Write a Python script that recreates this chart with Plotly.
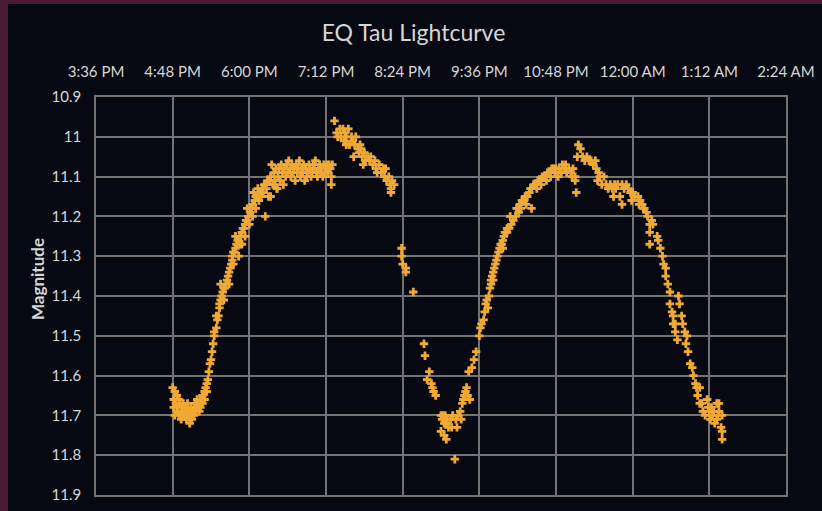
import plotly.graph_objects as go

# ---- data: (clock time, magnitude) ----
first_minimum = [
    ("16:48", 11.63), ("16:49", 11.66), ("16:49", 11.68), ("16:50", 11.64), ("16:50", 11.70),
    ("16:51", 11.67), ("16:52", 11.65), ("16:52", 11.69), ("16:53", 11.68), ("16:54", 11.66),
    ("16:54", 11.70), ("16:55", 11.67), ("16:56", 11.69), ("16:56", 11.71), ("16:57", 11.68),
    ("16:58", 11.70), ("16:58", 11.67), ("16:59", 11.69), ("17:00", 11.68), ("17:00", 11.70),
    ("17:01", 11.71), ("17:02", 11.69), ("17:02", 11.67), ("17:03", 11.70), ("17:04", 11.72),
    ("17:04", 11.69), ("17:05", 11.68), ("17:06", 11.70), ("17:06", 11.71), ("17:07", 11.69),
    ("17:08", 11.68), ("17:08", 11.70), ("17:09", 11.67), ("17:10", 11.69), ("17:10", 11.68),
    ("17:11", 11.66), ("17:12", 11.68), ("17:12", 11.67), ("17:13", 11.69), ("17:14", 11.66),
    ("17:14", 11.68), ("17:15", 11.67), ("17:16", 11.65), ("17:16", 11.67), ("17:17", 11.66),
    ("17:18", 11.64), ("17:18", 11.66), ("17:19", 11.63), ("17:20", 11.62), ("17:20", 11.64),
    ("17:21", 11.61),
]

first_rise = [
    ("17:22", 11.59), ("17:23", 11.57), ("17:24", 11.56), ("17:25", 11.54), ("17:26", 11.52),
    ("17:27", 11.50), ("17:27", 11.49), ("17:29", 11.48), ("17:30", 11.46), ("17:31", 11.45),
    ("17:32", 11.43), ("17:32", 11.42), ("17:33", 11.41), ("17:34", 11.40), ("17:35", 11.39),
    ("17:36", 11.38), ("17:37", 11.38), ("17:38", 11.37), ("17:39", 11.36), ("17:40", 11.35),
    ("17:41", 11.34), ("17:42", 11.33), ("17:43", 11.32), ("17:44", 11.31), ("17:44", 11.30),
    ("17:45", 11.29), ("17:46", 11.29), ("17:47", 11.28), ("17:48", 11.27), ("17:49", 11.26),
    ("17:51", 11.27), ("17:51", 11.25), ("17:52", 11.25), ("17:53", 11.24), ("17:54", 11.23),
    ("17:55", 11.23), ("17:56", 11.22), ("17:57", 11.21), ("17:58", 11.21), ("17:59", 11.20),
    ("18:01", 11.19), ("18:01", 11.18), ("18:02", 11.18), ("18:03", 11.17), ("18:05", 11.16),
    ("18:06", 11.15), ("18:08", 11.15), ("18:10", 11.14), ("18:12", 11.13), ("18:14", 11.12),
    ("18:15", 11.12), ("18:17", 11.11), ("18:19", 11.11), ("17:53", 11.27), ("17:56", 11.25),
    ("18:00", 11.22), ("18:03", 11.20), ("18:06", 11.18), ("18:09", 11.16), ("18:11", 11.15),
    ("18:15", 11.20), ("18:18", 11.15), ("18:20", 11.15), ("18:24", 11.12), ("18:26", 11.13),
    ("18:13", 11.14), ("18:16", 11.13), ("17:36", 11.41), ("17:41", 11.37), ("17:45", 11.32),
    ("17:50", 11.30), ("17:29", 11.45), ("17:33", 11.37), ("17:47", 11.25), ("17:58", 11.18),
    ("18:04", 11.14), ("18:08", 11.13),
]

first_plateau = [
    ("18:20", 11.10), ("18:21", 11.07), ("18:22", 11.12), ("18:23", 11.09), ("18:24", 11.11),
    ("18:25", 11.08), ("18:26", 11.13), ("18:27", 11.10), ("18:28", 11.08), ("18:29", 11.11),
    ("18:30", 11.07), ("18:31", 11.09), ("18:32", 11.12), ("18:33", 11.08), ("18:34", 11.10),
    ("18:35", 11.07), ("18:36", 11.09), ("18:37", 11.06), ("18:38", 11.08), ("18:39", 11.10),
    ("18:40", 11.07), ("18:41", 11.09), ("18:42", 11.08), ("18:43", 11.11), ("18:44", 11.07),
    ("18:45", 11.09), ("18:46", 11.08), ("18:47", 11.06), ("18:48", 11.10), ("18:49", 11.08),
    ("18:50", 11.09), ("18:51", 11.07), ("18:52", 11.11), ("18:53", 11.08), ("18:54", 11.10),
    ("18:55", 11.09), ("18:56", 11.07), ("18:57", 11.08), ("18:58", 11.10), ("18:59", 11.09),
    ("19:00", 11.07), ("19:01", 11.08), ("19:02", 11.06), ("19:03", 11.09), ("19:04", 11.10),
    ("19:05", 11.08), ("19:06", 11.07), ("19:07", 11.09), ("19:08", 11.08), ("19:09", 11.10),
    ("19:10", 11.07), ("19:11", 11.09), ("19:12", 11.08), ("19:13", 11.07), ("19:14", 11.09),
    ("19:15", 11.07), ("19:16", 11.08), ("19:17", 11.10), ("19:17", 11.12), ("19:18", 11.07),
]

second_hump = [
    ("19:20", 10.96), ("19:22", 10.99), ("19:23", 11.00), ("19:25", 10.98), ("19:26", 11.00),
    ("19:28", 10.98), ("19:29", 11.01), ("19:30", 10.99), ("19:31", 11.00), ("19:33", 10.98),
    ("19:34", 11.02), ("19:36", 11.00), ("19:37", 11.01), ("19:39", 11.02), ("19:40", 11.00),
    ("19:42", 11.03), ("19:43", 11.04), ("19:44", 11.02), ("19:45", 11.03), ("19:46", 11.05),
    ("19:48", 11.04), ("19:49", 11.06), ("19:51", 11.05), ("19:53", 11.06), ("19:54", 11.05),
    ("19:56", 11.07), ("19:58", 11.06), ("19:59", 11.08), ("20:00", 11.09), ("20:02", 11.07),
    ("20:04", 11.09), ("20:06", 11.08), ("20:07", 11.10), ("20:08", 11.08), ("20:09", 11.11),
    ("20:11", 11.10), ("20:12", 11.12), ("20:13", 11.13), ("20:14", 11.11), ("20:16", 11.12),
    ("20:13", 11.14), ("19:31", 11.02), ("19:38", 11.05), ("19:47", 11.07),
]

second_fall = [
    ("20:23", 11.28), ("20:23", 11.30), ("20:24", 11.32), ("20:27", 11.33), ("20:27", 11.34),
    ("20:34", 11.39), ("20:44", 11.52), ("20:45", 11.55), ("20:49", 11.59), ("20:47", 11.61),
    ("20:51", 11.62), ("20:52", 11.63), ("20:53", 11.64), ("20:55", 11.65),
]

second_minimum = [
    ("21:00", 11.70), ("21:01", 11.71), ("21:02", 11.70), ("21:03", 11.72), ("21:04", 11.70),
    ("21:05", 11.72), ("21:06", 11.71), ("21:00", 11.74), ("21:03", 11.75), ("21:05", 11.76),
    ("21:07", 11.73), ("21:09", 11.71), ("21:10", 11.73), ("21:11", 11.70), ("21:13", 11.81),
    ("21:14", 11.71), ("21:15", 11.73), ("21:16", 11.70), ("21:18", 11.69), ("21:19", 11.71),
    ("21:20", 11.67), ("21:21", 11.66), ("21:22", 11.65), ("21:23", 11.64), ("21:24", 11.63),
    ("21:25", 11.65), ("21:27", 11.66), ("21:26", 11.59), ("21:29", 11.58), ("21:31", 11.56),
    ("21:33", 11.54), ("21:36", 11.50),
]

second_rise = [
    ("21:37", 11.48), ("21:38", 11.47), ("21:40", 11.46), ("21:41", 11.44), ("21:42", 11.42),
    ("21:43", 11.41), ("21:45", 11.40), ("21:46", 11.38), ("21:47", 11.37), ("21:47", 11.36),
    ("21:48", 11.35), ("21:49", 11.34), ("21:50", 11.33), ("21:51", 11.32), ("21:52", 11.31),
    ("21:53", 11.30), ("21:54", 11.29), ("21:55", 11.28), ("21:56", 11.27), ("21:57", 11.27),
    ("21:58", 11.26), ("21:59", 11.25), ("22:00", 11.24), ("22:02", 11.24), ("22:02", 11.23),
    ("22:04", 11.23), ("22:06", 11.22), ("22:08", 11.21), ("22:10", 11.20), ("22:11", 11.18),
    ("22:12", 11.18), ("22:13", 11.19), ("22:14", 11.17), ("22:15", 11.18), ("22:16", 11.16),
    ("22:18", 11.16), ("22:19", 11.15), ("22:21", 11.15), ("22:23", 11.14), ("22:24", 11.13),
    ("22:25", 11.18), ("22:25", 11.13), ("22:27", 11.12), ("22:29", 11.12), ("22:31", 11.11),
    ("22:33", 11.11), ("22:35", 11.10), ("22:37", 11.10), ("22:38", 11.10), ("22:40", 11.09),
    ("22:42", 11.09), ("22:44", 11.08), ("22:46", 11.08), ("22:48", 11.08), ("22:30", 11.13),
    ("22:34", 11.12), ("22:39", 11.11), ("22:43", 11.10), ("22:47", 11.09), ("21:44", 11.43),
    ("21:49", 11.36), ("21:58", 11.28), ("22:05", 11.20), ("22:20", 11.17),
]

second_plateau = [
    ("22:51", 11.08), ("22:53", 11.09), ("22:54", 11.07), ("22:56", 11.08), ("22:58", 11.09),
    ("23:00", 11.08), ("23:02", 11.09), ("23:04", 11.08), ("23:06", 11.10), ("23:07", 11.14),
    ("23:06", 11.11), ("22:50", 11.10), ("22:57", 11.07), ("23:03", 11.10),
]

final_fall = [
    ("23:09", 11.02), ("23:11", 11.03), ("23:08", 11.05), ("23:13", 11.05), ("23:15", 11.06),
    ("23:17", 11.05), ("23:19", 11.06), ("23:21", 11.06), ("23:23", 11.07), ("23:25", 11.06),
    ("23:26", 11.08), ("23:28", 11.09), ("23:29", 11.10), ("23:31", 11.12), ("23:33", 11.10),
    ("23:35", 11.12), ("23:37", 11.13), ("23:39", 11.12), ("23:41", 11.13), ("23:43", 11.12),
    ("23:44", 11.13), ("23:46", 11.12), ("23:48", 11.15), ("23:50", 11.17), ("23:50", 11.12),
    ("23:52", 11.13), ("23:54", 11.12), ("23:56", 11.13), ("23:58", 11.14), ("00:00", 11.14),
    ("00:02", 11.15), ("00:05", 11.15), ("00:07", 11.16), ("00:09", 11.17), ("00:10", 11.18),
    ("00:11", 11.18), ("00:13", 11.19), ("00:14", 11.20), ("00:16", 11.22), ("00:18", 11.21),
    ("00:19", 11.22), ("00:16", 11.24), ("00:23", 11.25), ("00:16", 11.27), ("00:24", 11.26),
    ("00:26", 11.28), ("00:28", 11.30), ("00:29", 11.32), ("00:31", 11.33), ("00:31", 11.35),
    ("00:33", 11.37), ("00:35", 11.39), ("00:43", 11.40), ("00:44", 11.42), ("00:35", 11.42),
    ("00:37", 11.44), ("00:38", 11.45), ("00:46", 11.45), ("00:47", 11.47), ("00:40", 11.47),
    ("00:38", 11.47), ("00:40", 11.49), ("00:42", 11.51), ("00:49", 11.49), ("00:51", 11.50),
    ("00:50", 11.52), ("00:52", 11.54), ("00:54", 11.57), ("00:56", 11.58), ("00:57", 11.60),
    ("00:59", 11.62), ("01:00", 11.63), ("01:03", 11.63), ("01:01", 11.65), ("01:03", 11.67),
    ("01:05", 11.67), ("01:06", 11.69), ("01:08", 11.70), ("01:10", 11.66), ("01:11", 11.68),
    ("01:12", 11.69), ("01:13", 11.71), ("01:14", 11.68), ("01:15", 11.70), ("01:16", 11.69),
    ("01:17", 11.72), ("01:19", 11.67), ("01:19", 11.71), ("01:20", 11.70), ("01:21", 11.67),
    ("01:21", 11.69), ("01:23", 11.73), ("01:24", 11.70), ("01:24", 11.74), ("01:24", 11.76),
    ("23:27", 11.11), ("23:42", 11.15), ("23:59", 11.16), ("00:06", 11.17),
]

x_range = ("15:36", "02:24")
title_text = "EQ Tau Lightcurve"
y_title = "Magnitude"


def to_stamp(hhmm):
    day = "2024-01-01" if int(hhmm[:2]) >= 12 else "2024-01-02"
    return f"{day} {hhmm}"


segments = [first_minimum, first_rise, first_plateau, second_hump, second_fall,
            second_minimum, second_rise, second_plateau, final_fall]
xs, ys = [], []
for seg in segments:
    for t, m in seg:
        xs.append(to_stamp(t))
        ys.append(m)

fig = go.Figure(
    go.Scatter(
        x=xs, y=ys, mode="markers",
        marker=dict(symbol="cross", size=7, color="#f0a934", line=dict(width=0)),
        showlegend=False,
    )
)

grid = "#737373"
text_col = "#d6d6d6"
border_col = "#4a1c34"
panel_col = "#060911"
font_family = "Lato, 'Open Sans', sans-serif"

fig.update_layout(
    width=822, height=511,
    margin=dict(l=96, r=36, t=97, b=16, autoexpand=False),
    paper_bgcolor=border_col,
    plot_bgcolor=panel_col,
    font=dict(family=font_family, color=text_col, size=15),
    title=dict(text=title_text, x=0.503, xref="container", y=1 - 33 / 511,
               yref="container", yanchor="middle", xanchor="center",
               font=dict(size=23, color=text_col, family=font_family)),
    shapes=[dict(type="rect", xref="paper", yref="paper", layer="below",
                 x0=(8 - 96) / 690, x1=(830 - 96) / 690,
                 y0=(495 - 520) / 398, y1=(495 - 4) / 398,
                 fillcolor=panel_col, line=dict(width=0))],
    annotations=[dict(text=y_title, xref="paper", yref="paper",
                      x=(37 - 96) / 690, y=(495 - 279) / 398, textangle=-90,
                      showarrow=False, xanchor="center", yanchor="middle",
                      font=dict(size=17, color=text_col, family=font_family, weight="bold"))],
)

fig.update_xaxes(
    type="date", side="top", automargin=False,
    range=[to_stamp(x_range[0]), to_stamp(x_range[1])],
    tick0=to_stamp(x_range[0]), dtick=72 * 60 * 1000,
    tickformat="%-I:%M %p",
    showgrid=True, gridcolor=grid, gridwidth=1.7,
    showline=True, linecolor=grid, linewidth=1.7, mirror=True,
    zeroline=False, ticks="", ticklabelstandoff=12,
    tickfont=dict(size=15, color=text_col),
)
fig.update_yaxes(
    range=[11.9, 10.9], dtick=0.1, tick0=10.9, automargin=False,
    showgrid=True, gridcolor=grid, gridwidth=1.7,
    showline=True, linecolor=grid, linewidth=1.7, mirror=True,
    zeroline=False, ticks="", ticklabelstandoff=10,
    tickfont=dict(size=15, color=text_col),
)

page_js = (
    "document.body.style.margin='0';"
    "document.body.style.padding='0';"
    "document.body.style.overflow='hidden';"
    "document.body.style.background='" + border_col + "';"
)
fig.write_html("out.html", post_script=page_js, config={"displayModeBar": False})
